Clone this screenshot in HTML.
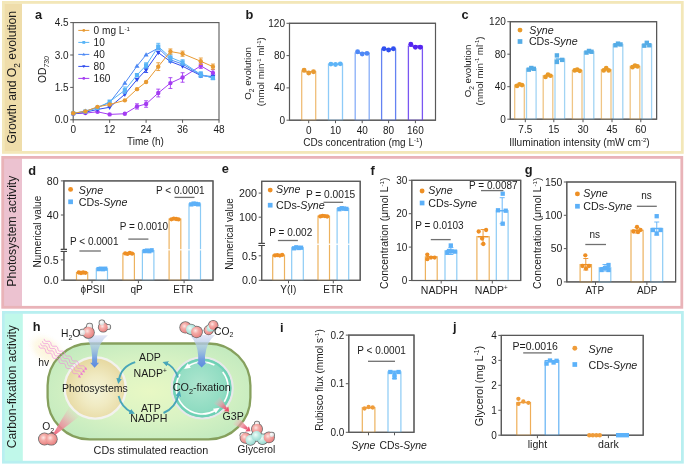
<!DOCTYPE html>
<html><head><meta charset="utf-8"><title>Figure</title>
<style>
html,body{margin:0;padding:0;background:#fff;}
#fig{position:relative;width:685px;height:465px;overflow:hidden;background:#fff;}
svg{display:block;font-family:'Liberation Sans', sans-serif;filter:blur(0.3px);}
</style></head><body>
<div id="fig">
<svg width="685" height="465" viewBox="0 0 685 465" fill="#1c1c1c">
<rect x="4.00" y="3.40" width="18.00" height="148.50" fill="#EFDDAA"/>
<rect x="3.40" y="2.40" width="678.90" height="150.00" fill="none" stroke="#F3E7B8" stroke-width="2.8"/>
<text x="16.40" y="77.20" font-size="12.2" text-anchor="middle" transform="rotate(-90 16.40 77.20)"><tspan>Growth and O</tspan><tspan dy="3.42" font-size="8.30">2</tspan><tspan dy="-3.42"> evolution</tspan></text>
<rect x="3.60" y="158.20" width="18.40" height="148.40" fill="#ECC2D0"/>
<rect x="2.70" y="157.40" width="679.10" height="149.90" fill="none" stroke="#E9B3B8" stroke-width="2.8"/>
<text x="16.40" y="231.20" font-size="12.2" text-anchor="middle" transform="rotate(-90 16.40 231.20)">Photosystem activity</text>
<rect x="4.20" y="313.20" width="18.60" height="148.20" fill="#C0F8EA"/>
<rect x="3.40" y="312.40" width="679.00" height="149.80" fill="none" stroke="#B8EFF0" stroke-width="2.8"/>
<text x="16.40" y="386.70" font-size="12.2" text-anchor="middle" transform="rotate(-90 16.40 386.70)">Carbon-fixation activity</text>
<text x="35.00" y="19.30" font-size="12.8" font-weight="bold">a</text>
<text x="245.60" y="19.30" font-size="12.8" font-weight="bold">b</text>
<text x="461.50" y="19.30" font-size="12.8" font-weight="bold">c</text>
<text x="28.20" y="175.30" font-size="12.8" font-weight="bold">d</text>
<text x="221.80" y="173.30" font-size="12.8" font-weight="bold">e</text>
<text x="370.60" y="175.10" font-size="12.8" font-weight="bold">f</text>
<text x="524.80" y="173.50" font-size="12.8" font-weight="bold">g</text>
<text x="32.80" y="331.40" font-size="12.8" font-weight="bold">h</text>
<text x="280.00" y="331.60" font-size="12.8" font-weight="bold">i</text>
<text x="453.00" y="331.40" font-size="12.8" font-weight="bold">j</text>
<rect x="73.20" y="22.60" width="145.80" height="97.20" fill="none" stroke="#595959" stroke-width="1.1"/>
<line x1="70.20" y1="119.80" x2="73.20" y2="119.80" stroke="#595959" stroke-width="1.0"/>
<text x="68.70" y="123.30" font-size="10" text-anchor="end">0.0</text>
<line x1="70.20" y1="87.40" x2="73.20" y2="87.40" stroke="#595959" stroke-width="1.0"/>
<text x="68.70" y="90.90" font-size="10" text-anchor="end">1.5</text>
<line x1="70.20" y1="55.00" x2="73.20" y2="55.00" stroke="#595959" stroke-width="1.0"/>
<text x="68.70" y="58.50" font-size="10" text-anchor="end">3.0</text>
<line x1="70.20" y1="22.60" x2="73.20" y2="22.60" stroke="#595959" stroke-width="1.0"/>
<text x="68.70" y="26.10" font-size="10" text-anchor="end">4.5</text>
<line x1="73.20" y1="119.80" x2="73.20" y2="122.80" stroke="#595959" stroke-width="1.0"/>
<text x="73.20" y="133.30" font-size="10" text-anchor="middle">0</text>
<line x1="109.65" y1="119.80" x2="109.65" y2="122.80" stroke="#595959" stroke-width="1.0"/>
<text x="109.65" y="133.30" font-size="10" text-anchor="middle">12</text>
<line x1="146.10" y1="119.80" x2="146.10" y2="122.80" stroke="#595959" stroke-width="1.0"/>
<text x="146.10" y="133.30" font-size="10" text-anchor="middle">24</text>
<line x1="182.55" y1="119.80" x2="182.55" y2="122.80" stroke="#595959" stroke-width="1.0"/>
<text x="182.55" y="133.30" font-size="10" text-anchor="middle">36</text>
<line x1="219.00" y1="119.80" x2="219.00" y2="122.80" stroke="#595959" stroke-width="1.0"/>
<text x="219.00" y="133.30" font-size="10" text-anchor="middle">48</text>
<text x="145.50" y="145.00" font-size="10" text-anchor="middle">Time (h)</text>
<text x="46.0" y="82.9" font-size="10.3" transform="rotate(-90 46.0 82.9)">OD<tspan dy="2.7" font-size="6.7" font-style="italic">730</tspan></text>
<polyline points="73.20,113.75 85.35,113.10 97.50,111.81 109.65,114.40 124.84,113.75 136.99,106.41 146.10,104.03 158.25,93.02 170.40,83.08 182.55,77.46 200.78,65.80 212.93,72.93" fill="none" stroke="#A43CF2" stroke-width="1.0"/>
<line x1="136.99" y1="103.82" x2="136.99" y2="109.00" stroke="#A43CF2" stroke-width="0.9"/>
<line x1="134.99" y1="103.82" x2="138.99" y2="103.82" stroke="#A43CF2" stroke-width="0.9"/>
<line x1="134.99" y1="109.00" x2="138.99" y2="109.00" stroke="#A43CF2" stroke-width="0.9"/>
<line x1="146.10" y1="100.79" x2="146.10" y2="107.27" stroke="#A43CF2" stroke-width="0.9"/>
<line x1="144.10" y1="100.79" x2="148.10" y2="100.79" stroke="#A43CF2" stroke-width="0.9"/>
<line x1="144.10" y1="107.27" x2="148.10" y2="107.27" stroke="#A43CF2" stroke-width="0.9"/>
<line x1="158.25" y1="89.13" x2="158.25" y2="96.90" stroke="#A43CF2" stroke-width="0.9"/>
<line x1="156.25" y1="89.13" x2="160.25" y2="89.13" stroke="#A43CF2" stroke-width="0.9"/>
<line x1="156.25" y1="96.90" x2="160.25" y2="96.90" stroke="#A43CF2" stroke-width="0.9"/>
<line x1="170.40" y1="77.68" x2="170.40" y2="88.48" stroke="#A43CF2" stroke-width="0.9"/>
<line x1="168.40" y1="77.68" x2="172.40" y2="77.68" stroke="#A43CF2" stroke-width="0.9"/>
<line x1="168.40" y1="88.48" x2="172.40" y2="88.48" stroke="#A43CF2" stroke-width="0.9"/>
<line x1="182.55" y1="72.71" x2="182.55" y2="82.22" stroke="#A43CF2" stroke-width="0.9"/>
<line x1="180.55" y1="72.71" x2="184.55" y2="72.71" stroke="#A43CF2" stroke-width="0.9"/>
<line x1="180.55" y1="82.22" x2="184.55" y2="82.22" stroke="#A43CF2" stroke-width="0.9"/>
<line x1="200.78" y1="63.21" x2="200.78" y2="68.39" stroke="#A43CF2" stroke-width="0.9"/>
<line x1="198.78" y1="63.21" x2="202.78" y2="63.21" stroke="#A43CF2" stroke-width="0.9"/>
<line x1="198.78" y1="68.39" x2="202.78" y2="68.39" stroke="#A43CF2" stroke-width="0.9"/>
<line x1="212.93" y1="69.69" x2="212.93" y2="76.17" stroke="#A43CF2" stroke-width="0.9"/>
<line x1="210.93" y1="69.69" x2="214.93" y2="69.69" stroke="#A43CF2" stroke-width="0.9"/>
<line x1="210.93" y1="76.17" x2="214.93" y2="76.17" stroke="#A43CF2" stroke-width="0.9"/>
<circle cx="73.20" cy="113.75" r="2.20" fill="#A43CF2"/>
<circle cx="85.35" cy="113.10" r="2.20" fill="#A43CF2"/>
<circle cx="97.50" cy="111.81" r="2.20" fill="#A43CF2"/>
<circle cx="109.65" cy="114.40" r="2.20" fill="#A43CF2"/>
<circle cx="124.84" cy="113.75" r="2.20" fill="#A43CF2"/>
<circle cx="136.99" cy="106.41" r="2.20" fill="#A43CF2"/>
<circle cx="146.10" cy="104.03" r="2.20" fill="#A43CF2"/>
<circle cx="158.25" cy="93.02" r="2.20" fill="#A43CF2"/>
<circle cx="170.40" cy="83.08" r="2.20" fill="#A43CF2"/>
<circle cx="182.55" cy="77.46" r="2.20" fill="#A43CF2"/>
<circle cx="200.78" cy="65.80" r="2.20" fill="#A43CF2"/>
<circle cx="212.93" cy="72.93" r="2.20" fill="#A43CF2"/>
<polyline points="73.20,113.75 85.35,112.24 97.50,109.43 109.65,107.27 124.84,94.31 136.99,79.62 146.10,69.90 158.25,52.62 170.40,61.48 182.55,66.23 200.78,75.52 212.93,76.60" fill="none" stroke="#2F4CEE" stroke-width="1.0"/>
<line x1="146.10" y1="67.31" x2="146.10" y2="72.50" stroke="#2F4CEE" stroke-width="0.9"/>
<line x1="144.10" y1="67.31" x2="148.10" y2="67.31" stroke="#2F4CEE" stroke-width="0.9"/>
<line x1="144.10" y1="72.50" x2="148.10" y2="72.50" stroke="#2F4CEE" stroke-width="0.9"/>
<polygon points="73.20,116.39 70.67,111.99 75.73,111.99" fill="#2F4CEE"/>
<polygon points="85.35,114.88 82.82,110.48 87.88,110.48" fill="#2F4CEE"/>
<polygon points="97.50,112.07 94.97,107.67 100.03,107.67" fill="#2F4CEE"/>
<polygon points="109.65,109.91 107.12,105.51 112.18,105.51" fill="#2F4CEE"/>
<polygon points="124.84,96.95 122.31,92.55 127.37,92.55" fill="#2F4CEE"/>
<polygon points="136.99,82.26 134.46,77.86 139.52,77.86" fill="#2F4CEE"/>
<polygon points="146.10,72.54 143.57,68.14 148.63,68.14" fill="#2F4CEE"/>
<polygon points="158.25,55.26 155.72,50.86 160.78,50.86" fill="#2F4CEE"/>
<polygon points="170.40,64.12 167.87,59.72 172.93,59.72" fill="#2F4CEE"/>
<polygon points="182.55,68.87 180.02,64.47 185.08,64.47" fill="#2F4CEE"/>
<polygon points="200.78,78.16 198.25,73.76 203.31,73.76" fill="#2F4CEE"/>
<polygon points="212.93,79.24 210.40,74.84 215.46,74.84" fill="#2F4CEE"/>
<polyline points="73.20,113.32 85.35,111.16 97.50,107.27 109.65,102.52 124.84,83.08 136.99,66.02 146.10,54.78 158.25,48.09 170.40,59.75 182.55,64.07 200.78,74.87 212.93,77.68" fill="none" stroke="#4C88F4" stroke-width="1.0"/>
<line x1="170.40" y1="57.16" x2="170.40" y2="62.34" stroke="#4C88F4" stroke-width="0.9"/>
<line x1="168.40" y1="57.16" x2="172.40" y2="57.16" stroke="#4C88F4" stroke-width="0.9"/>
<line x1="168.40" y1="62.34" x2="172.40" y2="62.34" stroke="#4C88F4" stroke-width="0.9"/>
<line x1="200.78" y1="72.28" x2="200.78" y2="77.46" stroke="#4C88F4" stroke-width="0.9"/>
<line x1="198.78" y1="72.28" x2="202.78" y2="72.28" stroke="#4C88F4" stroke-width="0.9"/>
<line x1="198.78" y1="77.46" x2="202.78" y2="77.46" stroke="#4C88F4" stroke-width="0.9"/>
<polygon points="73.20,110.68 70.67,115.08 75.73,115.08" fill="#4C88F4"/>
<polygon points="85.35,108.52 82.82,112.92 87.88,112.92" fill="#4C88F4"/>
<polygon points="97.50,104.63 94.97,109.03 100.03,109.03" fill="#4C88F4"/>
<polygon points="109.65,99.88 107.12,104.28 112.18,104.28" fill="#4C88F4"/>
<polygon points="124.84,80.44 122.31,84.84 127.37,84.84" fill="#4C88F4"/>
<polygon points="136.99,63.38 134.46,67.78 139.52,67.78" fill="#4C88F4"/>
<polygon points="146.10,52.14 143.57,56.54 148.63,56.54" fill="#4C88F4"/>
<polygon points="158.25,45.45 155.72,49.85 160.78,49.85" fill="#4C88F4"/>
<polygon points="170.40,57.11 167.87,61.51 172.93,61.51" fill="#4C88F4"/>
<polygon points="182.55,61.43 180.02,65.83 185.08,65.83" fill="#4C88F4"/>
<polygon points="200.78,72.23 198.25,76.63 203.31,76.63" fill="#4C88F4"/>
<polygon points="212.93,75.04 210.40,79.44 215.46,79.44" fill="#4C88F4"/>
<polyline points="73.20,113.32 85.35,111.59 97.50,107.92 109.65,101.66 124.84,90.21 136.99,75.09 146.10,65.37 158.25,46.58 170.40,57.38 182.55,62.34 200.78,74.44 212.93,78.11" fill="none" stroke="#58B4F6" stroke-width="1.0"/>
<line x1="124.84" y1="86.97" x2="124.84" y2="93.45" stroke="#58B4F6" stroke-width="0.9"/>
<line x1="122.84" y1="86.97" x2="126.84" y2="86.97" stroke="#58B4F6" stroke-width="0.9"/>
<line x1="122.84" y1="93.45" x2="126.84" y2="93.45" stroke="#58B4F6" stroke-width="0.9"/>
<line x1="146.10" y1="62.78" x2="146.10" y2="67.96" stroke="#58B4F6" stroke-width="0.9"/>
<line x1="144.10" y1="62.78" x2="148.10" y2="62.78" stroke="#58B4F6" stroke-width="0.9"/>
<line x1="144.10" y1="67.96" x2="148.10" y2="67.96" stroke="#58B4F6" stroke-width="0.9"/>
<line x1="158.25" y1="43.34" x2="158.25" y2="49.82" stroke="#58B4F6" stroke-width="0.9"/>
<line x1="156.25" y1="43.34" x2="160.25" y2="43.34" stroke="#58B4F6" stroke-width="0.9"/>
<line x1="156.25" y1="49.82" x2="160.25" y2="49.82" stroke="#58B4F6" stroke-width="0.9"/>
<line x1="170.40" y1="54.14" x2="170.40" y2="60.62" stroke="#58B4F6" stroke-width="0.9"/>
<line x1="168.40" y1="54.14" x2="172.40" y2="54.14" stroke="#58B4F6" stroke-width="0.9"/>
<line x1="168.40" y1="60.62" x2="172.40" y2="60.62" stroke="#58B4F6" stroke-width="0.9"/>
<line x1="182.55" y1="59.75" x2="182.55" y2="64.94" stroke="#58B4F6" stroke-width="0.9"/>
<line x1="180.55" y1="59.75" x2="184.55" y2="59.75" stroke="#58B4F6" stroke-width="0.9"/>
<line x1="180.55" y1="64.94" x2="184.55" y2="64.94" stroke="#58B4F6" stroke-width="0.9"/>
<line x1="200.78" y1="71.85" x2="200.78" y2="77.03" stroke="#58B4F6" stroke-width="0.9"/>
<line x1="198.78" y1="71.85" x2="202.78" y2="71.85" stroke="#58B4F6" stroke-width="0.9"/>
<line x1="198.78" y1="77.03" x2="202.78" y2="77.03" stroke="#58B4F6" stroke-width="0.9"/>
<rect x="71.10" y="111.22" width="4.20" height="4.20" fill="#58B4F6"/>
<rect x="83.25" y="109.49" width="4.20" height="4.20" fill="#58B4F6"/>
<rect x="95.40" y="105.82" width="4.20" height="4.20" fill="#58B4F6"/>
<rect x="107.55" y="99.56" width="4.20" height="4.20" fill="#58B4F6"/>
<rect x="122.74" y="88.11" width="4.20" height="4.20" fill="#58B4F6"/>
<rect x="134.89" y="72.99" width="4.20" height="4.20" fill="#58B4F6"/>
<rect x="144.00" y="63.27" width="4.20" height="4.20" fill="#58B4F6"/>
<rect x="156.15" y="44.48" width="4.20" height="4.20" fill="#58B4F6"/>
<rect x="168.30" y="55.28" width="4.20" height="4.20" fill="#58B4F6"/>
<rect x="180.45" y="60.24" width="4.20" height="4.20" fill="#58B4F6"/>
<rect x="198.68" y="72.34" width="4.20" height="4.20" fill="#58B4F6"/>
<rect x="210.83" y="76.01" width="4.20" height="4.20" fill="#58B4F6"/>
<polyline points="73.20,113.32 85.35,111.38 97.50,106.84 109.65,104.46 124.84,100.36 136.99,89.13 146.10,82.00 158.25,66.66 170.40,51.54 182.55,53.70 200.78,61.26 212.93,66.66" fill="none" stroke="#E89A32" stroke-width="1.0"/>
<line x1="158.25" y1="62.78" x2="158.25" y2="70.55" stroke="#E89A32" stroke-width="0.9"/>
<line x1="156.25" y1="62.78" x2="160.25" y2="62.78" stroke="#E89A32" stroke-width="0.9"/>
<line x1="156.25" y1="70.55" x2="160.25" y2="70.55" stroke="#E89A32" stroke-width="0.9"/>
<line x1="170.40" y1="48.95" x2="170.40" y2="54.14" stroke="#E89A32" stroke-width="0.9"/>
<line x1="168.40" y1="48.95" x2="172.40" y2="48.95" stroke="#E89A32" stroke-width="0.9"/>
<line x1="168.40" y1="54.14" x2="172.40" y2="54.14" stroke="#E89A32" stroke-width="0.9"/>
<line x1="182.55" y1="51.11" x2="182.55" y2="56.30" stroke="#E89A32" stroke-width="0.9"/>
<line x1="180.55" y1="51.11" x2="184.55" y2="51.11" stroke="#E89A32" stroke-width="0.9"/>
<line x1="180.55" y1="56.30" x2="184.55" y2="56.30" stroke="#E89A32" stroke-width="0.9"/>
<line x1="200.78" y1="58.02" x2="200.78" y2="64.50" stroke="#E89A32" stroke-width="0.9"/>
<line x1="198.78" y1="58.02" x2="202.78" y2="58.02" stroke="#E89A32" stroke-width="0.9"/>
<line x1="198.78" y1="64.50" x2="202.78" y2="64.50" stroke="#E89A32" stroke-width="0.9"/>
<line x1="212.93" y1="64.07" x2="212.93" y2="69.26" stroke="#E89A32" stroke-width="0.9"/>
<line x1="210.93" y1="64.07" x2="214.93" y2="64.07" stroke="#E89A32" stroke-width="0.9"/>
<line x1="210.93" y1="69.26" x2="214.93" y2="69.26" stroke="#E89A32" stroke-width="0.9"/>
<circle cx="73.20" cy="113.32" r="2.20" fill="#E89A32"/>
<circle cx="85.35" cy="111.38" r="2.20" fill="#E89A32"/>
<circle cx="97.50" cy="106.84" r="2.20" fill="#E89A32"/>
<circle cx="109.65" cy="104.46" r="2.20" fill="#E89A32"/>
<circle cx="124.84" cy="100.36" r="2.20" fill="#E89A32"/>
<circle cx="136.99" cy="89.13" r="2.20" fill="#E89A32"/>
<circle cx="146.10" cy="82.00" r="2.20" fill="#E89A32"/>
<circle cx="158.25" cy="66.66" r="2.20" fill="#E89A32"/>
<circle cx="170.40" cy="51.54" r="2.20" fill="#E89A32"/>
<circle cx="182.55" cy="53.70" r="2.20" fill="#E89A32"/>
<circle cx="200.78" cy="61.26" r="2.20" fill="#E89A32"/>
<circle cx="212.93" cy="66.66" r="2.20" fill="#E89A32"/>
<line x1="78.30" y1="30.40" x2="89.30" y2="30.40" stroke="#E89A32" stroke-width="1.0"/>
<circle cx="83.80" cy="30.40" r="1.40" fill="#E89A32"/>
<text x="93.60" y="34.40" font-size="10.1"><tspan>0 mg L</tspan><tspan dy="-3.64" font-size="6.06">-1</tspan></text>
<line x1="78.30" y1="42.40" x2="89.30" y2="42.40" stroke="#58B4F6" stroke-width="1.0"/>
<rect x="82.40" y="41.00" width="2.80" height="2.80" fill="#58B4F6"/>
<text x="93.60" y="46.40" font-size="10.1">10</text>
<line x1="78.30" y1="54.40" x2="89.30" y2="54.40" stroke="#4C88F4" stroke-width="1.0"/>
<polygon points="83.80,52.72 82.19,55.52 85.41,55.52" fill="#4C88F4"/>
<text x="93.60" y="58.40" font-size="10.1">40</text>
<line x1="78.30" y1="66.40" x2="89.30" y2="66.40" stroke="#2F4CEE" stroke-width="1.0"/>
<polygon points="83.80,68.08 82.19,65.28 85.41,65.28" fill="#2F4CEE"/>
<text x="93.60" y="70.40" font-size="10.1">80</text>
<line x1="78.30" y1="78.40" x2="89.30" y2="78.40" stroke="#A43CF2" stroke-width="1.0"/>
<circle cx="83.80" cy="78.40" r="1.40" fill="#A43CF2"/>
<text x="93.60" y="82.40" font-size="10.1">160</text>
<rect x="289.50" y="23.30" width="146.00" height="96.90" fill="none" stroke="#595959" stroke-width="1.1"/>
<line x1="286.50" y1="120.20" x2="289.50" y2="120.20" stroke="#595959" stroke-width="1.0"/>
<text x="285.00" y="123.70" font-size="10" text-anchor="end">0</text>
<line x1="286.50" y1="87.90" x2="289.50" y2="87.90" stroke="#595959" stroke-width="1.0"/>
<text x="285.00" y="91.40" font-size="10" text-anchor="end">40</text>
<line x1="286.50" y1="55.60" x2="289.50" y2="55.60" stroke="#595959" stroke-width="1.0"/>
<text x="285.00" y="59.10" font-size="10" text-anchor="end">80</text>
<line x1="286.50" y1="23.30" x2="289.50" y2="23.30" stroke="#595959" stroke-width="1.0"/>
<text x="285.00" y="26.80" font-size="10" text-anchor="end">120</text>
<text x="250.90" y="73.40" font-size="9.7" text-anchor="middle" transform="rotate(-90 250.90 73.40)"><tspan>O</tspan><tspan dy="2.72" font-size="6.60">2</tspan><tspan dy="-2.72"> evolution</tspan></text>
<text x="264.00" y="71.70" font-size="9.7" text-anchor="middle" transform="rotate(-90 264.00 71.70)"><tspan>(nmol min</tspan><tspan dy="-3.49" font-size="5.82">-1</tspan><tspan dy="3.49"> ml</tspan><tspan dy="-3.49" font-size="5.82">-1</tspan><tspan dy="3.49">)</tspan></text>
<rect x="301.70" y="71.75" width="14.00" height="48.45" fill="white" stroke="#F0BE78" stroke-width="1.3"/>
<line x1="303.20" y1="71.75" x2="314.20" y2="71.75" stroke="#E89A32" stroke-width="1.0"/>
<circle cx="304.10" cy="70.13" r="2.45" fill="#E89A32"/>
<circle cx="308.70" cy="72.96" r="2.45" fill="#E89A32"/>
<circle cx="313.50" cy="71.75" r="2.45" fill="#E89A32"/>
<line x1="308.70" y1="120.20" x2="308.70" y2="123.20" stroke="#595959" stroke-width="1.0"/>
<text x="308.70" y="133.90" font-size="10" text-anchor="middle">0</text>
<rect x="328.50" y="64.16" width="14.00" height="56.04" fill="white" stroke="#8ECBF8" stroke-width="1.3"/>
<line x1="330.00" y1="64.16" x2="341.00" y2="64.16" stroke="#5EB4F7" stroke-width="1.0"/>
<circle cx="330.90" cy="64.08" r="2.45" fill="#5EB4F7"/>
<circle cx="335.50" cy="64.48" r="2.45" fill="#5EB4F7"/>
<circle cx="340.30" cy="63.84" r="2.45" fill="#5EB4F7"/>
<line x1="335.50" y1="120.20" x2="335.50" y2="123.20" stroke="#595959" stroke-width="1.0"/>
<text x="335.50" y="133.90" font-size="10" text-anchor="middle">10</text>
<rect x="355.20" y="53.02" width="14.00" height="67.18" fill="white" stroke="#88AEF8" stroke-width="1.3"/>
<line x1="356.70" y1="53.02" x2="367.70" y2="53.02" stroke="#4E88F6" stroke-width="1.0"/>
<circle cx="357.60" cy="51.72" r="2.45" fill="#4E88F6"/>
<circle cx="362.20" cy="53.98" r="2.45" fill="#4E88F6"/>
<circle cx="367.00" cy="53.42" r="2.45" fill="#4E88F6"/>
<line x1="362.20" y1="120.20" x2="362.20" y2="123.20" stroke="#595959" stroke-width="1.0"/>
<text x="362.20" y="133.90" font-size="10" text-anchor="middle">40</text>
<rect x="381.60" y="49.22" width="14.00" height="70.98" fill="white" stroke="#6482F2" stroke-width="1.3"/>
<line x1="383.10" y1="49.22" x2="394.10" y2="49.22" stroke="#3050F0" stroke-width="1.0"/>
<circle cx="384.00" cy="48.82" r="2.45" fill="#3050F0"/>
<circle cx="388.60" cy="50.03" r="2.45" fill="#3050F0"/>
<circle cx="393.40" cy="48.82" r="2.45" fill="#3050F0"/>
<line x1="388.60" y1="120.20" x2="388.60" y2="123.20" stroke="#595959" stroke-width="1.0"/>
<text x="388.60" y="133.90" font-size="10" text-anchor="middle">80</text>
<rect x="408.40" y="46.15" width="14.00" height="74.05" fill="white" stroke="#7A56F2" stroke-width="1.3"/>
<line x1="409.90" y1="46.15" x2="420.90" y2="46.15" stroke="#5424F0" stroke-width="1.0"/>
<circle cx="410.80" cy="44.13" r="2.45" fill="#5424F0"/>
<circle cx="415.40" cy="47.20" r="2.45" fill="#5424F0"/>
<circle cx="420.20" cy="47.20" r="2.45" fill="#5424F0"/>
<line x1="415.40" y1="120.20" x2="415.40" y2="123.20" stroke="#595959" stroke-width="1.0"/>
<text x="415.40" y="133.90" font-size="10" text-anchor="middle">160</text>
<text x="363.00" y="145.80" font-size="10" text-anchor="middle"><tspan>CDs concentration (mg L</tspan><tspan dy="-3.60" font-size="6.00">-1</tspan><tspan dy="3.60">)</tspan></text>
<rect x="289.50" y="23.30" width="146.00" height="96.90" fill="none" stroke="#595959" stroke-width="1.1"/>
<rect x="510.30" y="21.70" width="146.30" height="97.50" fill="none" stroke="#595959" stroke-width="1.1"/>
<line x1="507.30" y1="119.20" x2="510.30" y2="119.20" stroke="#595959" stroke-width="1.0"/>
<text x="505.80" y="122.70" font-size="10" text-anchor="end">0</text>
<line x1="507.30" y1="86.70" x2="510.30" y2="86.70" stroke="#595959" stroke-width="1.0"/>
<text x="505.80" y="90.20" font-size="10" text-anchor="end">40</text>
<line x1="507.30" y1="54.20" x2="510.30" y2="54.20" stroke="#595959" stroke-width="1.0"/>
<text x="505.80" y="57.70" font-size="10" text-anchor="end">80</text>
<line x1="507.30" y1="21.70" x2="510.30" y2="21.70" stroke="#595959" stroke-width="1.0"/>
<text x="505.80" y="25.20" font-size="10" text-anchor="end">120</text>
<text x="471.30" y="71.00" font-size="9.7" text-anchor="middle" transform="rotate(-90 471.30 71.00)"><tspan>O</tspan><tspan dy="2.72" font-size="6.60">2</tspan><tspan dy="-2.72"> evolution</tspan></text>
<text x="482.60" y="71.00" font-size="9.7" text-anchor="middle" transform="rotate(-90 482.60 71.00)"><tspan>(nmol min</tspan><tspan dy="-3.49" font-size="5.82">-1</tspan><tspan dy="3.49"> ml</tspan><tspan dy="-3.49" font-size="5.82">-1</tspan><tspan dy="3.49">)</tspan></text>
<rect x="514.70" y="85.08" width="9.60" height="34.12" fill="white" stroke="#F0C585" stroke-width="1.3"/>
<rect x="526.50" y="68.83" width="9.60" height="50.38" fill="white" stroke="#A2D4F4" stroke-width="1.3"/>
<line x1="515.70" y1="85.08" x2="523.30" y2="85.08" stroke="#E99A28" stroke-width="1.3"/>
<line x1="527.50" y1="68.83" x2="535.10" y2="68.83" stroke="#55ACE6" stroke-width="1.3"/>
<circle cx="517.00" cy="85.89" r="2.35" fill="#E99A28"/>
<circle cx="519.50" cy="84.26" r="2.35" fill="#E99A28"/>
<circle cx="522.00" cy="85.08" r="2.35" fill="#E99A28"/>
<rect x="526.60" y="67.44" width="4.40" height="4.40" fill="#55ACE6"/>
<rect x="529.10" y="65.81" width="4.40" height="4.40" fill="#55ACE6"/>
<rect x="531.60" y="66.62" width="4.40" height="4.40" fill="#55ACE6"/>
<line x1="525.30" y1="119.20" x2="525.30" y2="122.20" stroke="#595959" stroke-width="1.0"/>
<text x="525.30" y="133.40" font-size="10" text-anchor="middle">7.5</text>
<rect x="543.20" y="75.73" width="9.60" height="43.47" fill="white" stroke="#F0C585" stroke-width="1.3"/>
<rect x="555.00" y="59.08" width="9.60" height="60.12" fill="white" stroke="#A2D4F4" stroke-width="1.3"/>
<line x1="544.20" y1="75.73" x2="551.80" y2="75.73" stroke="#E99A28" stroke-width="1.3"/>
<line x1="556.00" y1="59.08" x2="563.60" y2="59.08" stroke="#55ACE6" stroke-width="1.3"/>
<circle cx="545.50" cy="76.95" r="2.35" fill="#E99A28"/>
<circle cx="548.00" cy="74.51" r="2.35" fill="#E99A28"/>
<circle cx="550.50" cy="75.73" r="2.35" fill="#E99A28"/>
<rect x="554.70" y="53.22" width="4.40" height="4.40" fill="#55ACE6"/>
<rect x="554.70" y="59.72" width="4.40" height="4.40" fill="#55ACE6"/>
<rect x="560.00" y="57.69" width="4.40" height="4.40" fill="#55ACE6"/>
<line x1="553.80" y1="119.20" x2="553.80" y2="122.20" stroke="#595959" stroke-width="1.0"/>
<text x="553.80" y="133.40" font-size="10" text-anchor="middle">15</text>
<rect x="572.40" y="70.45" width="9.60" height="48.75" fill="white" stroke="#F0C585" stroke-width="1.3"/>
<rect x="584.20" y="51.76" width="9.60" height="67.44" fill="white" stroke="#A2D4F4" stroke-width="1.3"/>
<line x1="573.40" y1="70.45" x2="581.00" y2="70.45" stroke="#E99A28" stroke-width="1.3"/>
<line x1="585.20" y1="51.76" x2="592.80" y2="51.76" stroke="#55ACE6" stroke-width="1.3"/>
<circle cx="574.70" cy="70.45" r="2.35" fill="#E99A28"/>
<circle cx="577.20" cy="69.64" r="2.35" fill="#E99A28"/>
<circle cx="579.70" cy="70.86" r="2.35" fill="#E99A28"/>
<rect x="584.30" y="50.38" width="4.40" height="4.40" fill="#55ACE6"/>
<rect x="586.80" y="48.75" width="4.40" height="4.40" fill="#55ACE6"/>
<rect x="589.30" y="49.56" width="4.40" height="4.40" fill="#55ACE6"/>
<line x1="583.00" y1="119.20" x2="583.00" y2="122.20" stroke="#595959" stroke-width="1.0"/>
<text x="583.00" y="133.40" font-size="10" text-anchor="middle">30</text>
<rect x="601.40" y="69.64" width="9.60" height="49.56" fill="white" stroke="#F0C585" stroke-width="1.3"/>
<rect x="613.20" y="44.45" width="9.60" height="74.75" fill="white" stroke="#A2D4F4" stroke-width="1.3"/>
<line x1="602.40" y1="69.64" x2="610.00" y2="69.64" stroke="#E99A28" stroke-width="1.3"/>
<line x1="614.20" y1="44.45" x2="621.80" y2="44.45" stroke="#55ACE6" stroke-width="1.3"/>
<circle cx="603.70" cy="70.45" r="2.35" fill="#E99A28"/>
<circle cx="606.20" cy="68.01" r="2.35" fill="#E99A28"/>
<circle cx="608.70" cy="70.45" r="2.35" fill="#E99A28"/>
<rect x="613.30" y="43.06" width="4.40" height="4.40" fill="#55ACE6"/>
<rect x="615.80" y="41.44" width="4.40" height="4.40" fill="#55ACE6"/>
<rect x="618.30" y="42.25" width="4.40" height="4.40" fill="#55ACE6"/>
<line x1="612.00" y1="119.20" x2="612.00" y2="122.20" stroke="#595959" stroke-width="1.0"/>
<text x="612.00" y="133.40" font-size="10" text-anchor="middle">45</text>
<rect x="630.20" y="66.39" width="9.60" height="52.81" fill="white" stroke="#F0C585" stroke-width="1.3"/>
<rect x="642.00" y="44.45" width="9.60" height="74.75" fill="white" stroke="#A2D4F4" stroke-width="1.3"/>
<line x1="631.20" y1="66.39" x2="638.80" y2="66.39" stroke="#E99A28" stroke-width="1.3"/>
<line x1="643.00" y1="44.45" x2="650.60" y2="44.45" stroke="#55ACE6" stroke-width="1.3"/>
<circle cx="632.50" cy="67.20" r="2.35" fill="#E99A28"/>
<circle cx="635.00" cy="65.58" r="2.35" fill="#E99A28"/>
<circle cx="637.50" cy="66.39" r="2.35" fill="#E99A28"/>
<rect x="642.10" y="43.47" width="4.40" height="4.40" fill="#55ACE6"/>
<rect x="644.60" y="40.62" width="4.40" height="4.40" fill="#55ACE6"/>
<rect x="647.10" y="43.06" width="4.40" height="4.40" fill="#55ACE6"/>
<line x1="640.80" y1="119.20" x2="640.80" y2="122.20" stroke="#595959" stroke-width="1.0"/>
<text x="640.80" y="133.40" font-size="10" text-anchor="middle">60</text>
<text x="579.50" y="145.60" font-size="10.15" text-anchor="middle"><tspan>Illumination intensity (mW cm</tspan><tspan dy="-3.65" font-size="6.09">-2</tspan><tspan dy="3.65">)</tspan></text>
<circle cx="520.00" cy="30.10" r="2.45" fill="#E99A28"/>
<text x="529.30" y="33.60" font-size="10.7" font-style="italic">Syne</text>
<rect x="517.65" y="39.15" width="4.70" height="4.70" fill="#55ACE6"/>
<text x="528.90" y="44.90" font-size="10.7"><tspan>CDs-</tspan><tspan font-style="italic">Syne</tspan></text>
<rect x="510.30" y="21.70" width="146.30" height="97.50" fill="none" stroke="#595959" stroke-width="1.1"/>
<rect x="63.90" y="180.90" width="149.10" height="99.30" fill="none" stroke="#595959" stroke-width="1.1"/>
<line x1="60.90" y1="280.20" x2="63.90" y2="280.20" stroke="#595959" stroke-width="1.0"/>
<text x="58.60" y="283.91" font-size="10.6" text-anchor="end">0.0</text>
<line x1="60.90" y1="259.90" x2="63.90" y2="259.90" stroke="#595959" stroke-width="1.0"/>
<text x="58.60" y="263.61" font-size="10.6" text-anchor="end">0.5</text>
<line x1="60.90" y1="215.00" x2="63.90" y2="215.00" stroke="#595959" stroke-width="1.0"/>
<text x="58.60" y="218.71" font-size="10.6" text-anchor="end">40</text>
<line x1="60.90" y1="180.90" x2="63.90" y2="180.90" stroke="#595959" stroke-width="1.0"/>
<text x="58.60" y="184.61" font-size="10.6" text-anchor="end">80</text>
<text x="41.30" y="231.60" font-size="10" text-anchor="middle" transform="rotate(-90 41.30 231.60)">Numerical value</text>
<rect x="76.50" y="272.50" width="11.20" height="7.70" fill="white" stroke="#EDB25E" stroke-width="1.2"/>
<line x1="77.50" y1="272.50" x2="86.70" y2="272.50" stroke="#EE8F24" stroke-width="1.3"/>
<circle cx="78.80" cy="272.50" r="2.15" fill="#EE8F24"/>
<circle cx="81.00" cy="273.00" r="2.15" fill="#EE8F24"/>
<circle cx="83.20" cy="272.50" r="2.15" fill="#EE8F24"/>
<circle cx="85.40" cy="272.80" r="2.15" fill="#EE8F24"/>
<rect x="96.30" y="268.70" width="11.20" height="11.50" fill="white" stroke="#8CCBF5" stroke-width="1.2"/>
<line x1="97.30" y1="268.70" x2="106.50" y2="268.70" stroke="#5CB0F8" stroke-width="1.3"/>
<rect x="96.45" y="266.95" width="4.30" height="4.30" fill="#5CB0F8"/>
<rect x="98.65" y="266.55" width="4.30" height="4.30" fill="#5CB0F8"/>
<rect x="100.85" y="267.05" width="4.30" height="4.30" fill="#5CB0F8"/>
<rect x="103.05" y="266.55" width="4.30" height="4.30" fill="#5CB0F8"/>
<rect x="122.90" y="253.40" width="11.50" height="26.80" fill="white" stroke="#EDB25E" stroke-width="1.2"/>
<line x1="123.90" y1="253.40" x2="133.40" y2="253.40" stroke="#EE8F24" stroke-width="1.3"/>
<circle cx="125.20" cy="253.40" r="2.15" fill="#EE8F24"/>
<circle cx="127.50" cy="253.90" r="2.15" fill="#EE8F24"/>
<circle cx="129.80" cy="252.90" r="2.15" fill="#EE8F24"/>
<circle cx="132.10" cy="253.70" r="2.15" fill="#EE8F24"/>
<rect x="142.40" y="250.60" width="11.50" height="29.60" fill="white" stroke="#8CCBF5" stroke-width="1.2"/>
<line x1="143.40" y1="250.60" x2="152.90" y2="250.60" stroke="#5CB0F8" stroke-width="1.3"/>
<rect x="142.55" y="248.95" width="4.30" height="4.30" fill="#5CB0F8"/>
<rect x="144.85" y="248.45" width="4.30" height="4.30" fill="#5CB0F8"/>
<rect x="147.15" y="249.05" width="4.30" height="4.30" fill="#5CB0F8"/>
<rect x="149.45" y="248.15" width="4.30" height="4.30" fill="#5CB0F8"/>
<rect x="169.10" y="219.00" width="11.70" height="61.20" fill="white" stroke="#EDB25E" stroke-width="1.2"/>
<line x1="170.10" y1="219.00" x2="179.80" y2="219.00" stroke="#EE8F24" stroke-width="1.3"/>
<circle cx="171.40" cy="219.30" r="2.15" fill="#EE8F24"/>
<circle cx="173.77" cy="218.60" r="2.15" fill="#EE8F24"/>
<circle cx="176.13" cy="219.00" r="2.15" fill="#EE8F24"/>
<circle cx="178.50" cy="219.40" r="2.15" fill="#EE8F24"/>
<rect x="189.00" y="203.90" width="11.50" height="76.30" fill="white" stroke="#8CCBF5" stroke-width="1.2"/>
<line x1="190.00" y1="203.90" x2="199.50" y2="203.90" stroke="#5CB0F8" stroke-width="1.3"/>
<rect x="189.15" y="202.25" width="4.30" height="4.30" fill="#5CB0F8"/>
<rect x="191.45" y="201.45" width="4.30" height="4.30" fill="#5CB0F8"/>
<rect x="193.75" y="201.75" width="4.30" height="4.30" fill="#5CB0F8"/>
<rect x="196.05" y="202.15" width="4.30" height="4.30" fill="#5CB0F8"/>
<rect x="168" y="249.2" width="34" height="1.2" fill="white"/>
<rect x="62.90" y="249.40" width="2" height="2.0" fill="white"/>
<line x1="60.80" y1="249.35" x2="67.00" y2="249.35" stroke="#444" stroke-width="1.0"/>
<line x1="60.80" y1="251.45" x2="67.00" y2="251.45" stroke="#444" stroke-width="1.0"/>
<line x1="92.00" y1="280.20" x2="92.00" y2="283.20" stroke="#595959" stroke-width="1.0"/>
<line x1="138.40" y1="280.20" x2="138.40" y2="283.20" stroke="#595959" stroke-width="1.0"/>
<line x1="184.10" y1="280.20" x2="184.10" y2="283.20" stroke="#595959" stroke-width="1.0"/>
<text x="92.80" y="293.00" font-size="10" text-anchor="middle">ϕPSII</text>
<text x="136.60" y="293.00" font-size="10" text-anchor="middle">qP</text>
<text x="183.20" y="293.00" font-size="10" text-anchor="middle">ETR</text>
<text x="70.00" y="245.30" font-size="10">P &lt; 0.0001</text>
<line x1="79.40" y1="251.00" x2="100.90" y2="251.00" stroke="#707070" stroke-width="1.3"/>
<text x="119.70" y="229.90" font-size="10">P = 0.0010</text>
<line x1="128.30" y1="239.10" x2="148.40" y2="239.10" stroke="#707070" stroke-width="1.3"/>
<text x="156.10" y="193.80" font-size="10">P &lt; 0.0001</text>
<line x1="174.50" y1="197.40" x2="194.50" y2="197.40" stroke="#707070" stroke-width="1.3"/>
<circle cx="70.60" cy="189.40" r="2.45" fill="#EE8F24"/>
<text x="78.80" y="193.90" font-size="10.7" font-style="italic">Syne</text>
<rect x="68.25" y="199.45" width="4.70" height="4.70" fill="#5CB0F8"/>
<text x="78.80" y="206.30" font-size="10.7"><tspan>CDs-</tspan><tspan font-style="italic">Syne</tspan></text>
<rect x="63.90" y="180.90" width="149.10" height="99.30" fill="none" stroke="#595959" stroke-width="1.1"/>
<rect x="62.90" y="249.40" width="2" height="2.0" fill="white"/>
<line x1="60.80" y1="249.35" x2="67.00" y2="249.35" stroke="#444" stroke-width="1.0"/>
<line x1="60.80" y1="251.45" x2="67.00" y2="251.45" stroke="#444" stroke-width="1.0"/>
<rect x="261.70" y="181.30" width="98.50" height="99.00" fill="none" stroke="#595959" stroke-width="1.1"/>
<line x1="258.70" y1="280.30" x2="261.70" y2="280.30" stroke="#595959" stroke-width="1.0"/>
<text x="256.90" y="284.05" font-size="10.7" text-anchor="end">0.0</text>
<line x1="258.70" y1="255.80" x2="261.70" y2="255.80" stroke="#595959" stroke-width="1.0"/>
<text x="256.90" y="259.55" font-size="10.7" text-anchor="end">0.5</text>
<line x1="258.70" y1="217.20" x2="261.70" y2="217.20" stroke="#595959" stroke-width="1.0"/>
<text x="256.90" y="220.94" font-size="10.7" text-anchor="end">100</text>
<line x1="258.70" y1="193.10" x2="261.70" y2="193.10" stroke="#595959" stroke-width="1.0"/>
<text x="256.90" y="196.84" font-size="10.7" text-anchor="end">200</text>
<text x="232.80" y="234.00" font-size="10" text-anchor="middle" transform="rotate(-90 232.80 234.00)">Numerical value</text>
<rect x="272.70" y="255.10" width="11.80" height="25.20" fill="white" stroke="#EDB25E" stroke-width="1.2"/>
<line x1="273.70" y1="255.10" x2="283.50" y2="255.10" stroke="#EE8F24" stroke-width="1.3"/>
<circle cx="275.00" cy="255.40" r="2.15" fill="#EE8F24"/>
<circle cx="277.40" cy="255.10" r="2.15" fill="#EE8F24"/>
<circle cx="279.80" cy="255.60" r="2.15" fill="#EE8F24"/>
<circle cx="282.20" cy="254.90" r="2.15" fill="#EE8F24"/>
<rect x="291.70" y="247.70" width="11.60" height="32.60" fill="white" stroke="#8CCBF5" stroke-width="1.2"/>
<line x1="292.70" y1="247.70" x2="302.30" y2="247.70" stroke="#5CB0F8" stroke-width="1.3"/>
<rect x="291.85" y="246.15" width="4.30" height="4.30" fill="#5CB0F8"/>
<rect x="294.18" y="245.15" width="4.30" height="4.30" fill="#5CB0F8"/>
<rect x="296.52" y="245.85" width="4.30" height="4.30" fill="#5CB0F8"/>
<rect x="298.85" y="245.55" width="4.30" height="4.30" fill="#5CB0F8"/>
<rect x="318.00" y="216.10" width="11.50" height="64.20" fill="white" stroke="#EDB25E" stroke-width="1.2"/>
<line x1="319.00" y1="216.10" x2="328.50" y2="216.10" stroke="#EE8F24" stroke-width="1.3"/>
<circle cx="320.30" cy="216.40" r="2.15" fill="#EE8F24"/>
<circle cx="322.60" cy="215.80" r="2.15" fill="#EE8F24"/>
<circle cx="324.90" cy="216.10" r="2.15" fill="#EE8F24"/>
<circle cx="327.20" cy="216.50" r="2.15" fill="#EE8F24"/>
<rect x="337.10" y="208.60" width="11.60" height="71.70" fill="white" stroke="#8CCBF5" stroke-width="1.2"/>
<line x1="338.10" y1="208.60" x2="347.70" y2="208.60" stroke="#5CB0F8" stroke-width="1.3"/>
<rect x="337.25" y="207.05" width="4.30" height="4.30" fill="#5CB0F8"/>
<rect x="339.58" y="206.05" width="4.30" height="4.30" fill="#5CB0F8"/>
<rect x="341.92" y="206.45" width="4.30" height="4.30" fill="#5CB0F8"/>
<rect x="344.25" y="206.75" width="4.30" height="4.30" fill="#5CB0F8"/>
<rect x="316" y="243.6" width="35" height="1.2" fill="white"/>
<rect x="260.70" y="243.45" width="2" height="2.0" fill="white"/>
<line x1="258.60" y1="243.40" x2="264.80" y2="243.40" stroke="#444" stroke-width="1.0"/>
<line x1="258.60" y1="245.50" x2="264.80" y2="245.50" stroke="#444" stroke-width="1.0"/>
<line x1="288.50" y1="280.30" x2="288.50" y2="283.30" stroke="#595959" stroke-width="1.0"/>
<line x1="333.30" y1="280.30" x2="333.30" y2="283.30" stroke="#595959" stroke-width="1.0"/>
<text x="288.30" y="293.00" font-size="10" text-anchor="middle">Y(I)</text>
<text x="333.30" y="293.00" font-size="10" text-anchor="middle">ETR</text>
<text x="269.30" y="235.70" font-size="10">P = 0.002</text>
<line x1="277.90" y1="240.50" x2="297.90" y2="240.50" stroke="#707070" stroke-width="1.3"/>
<text x="305.90" y="197.70" font-size="10.2">P = 0.0015</text>
<line x1="323.50" y1="202.30" x2="343.10" y2="202.30" stroke="#707070" stroke-width="1.3"/>
<circle cx="270.20" cy="190.10" r="2.45" fill="#EE8F24"/>
<text x="276.00" y="193.40" font-size="10.7" font-style="italic">Syne</text>
<rect x="267.85" y="202.85" width="4.70" height="4.70" fill="#5CB0F8"/>
<text x="276.00" y="209.00" font-size="10.7"><tspan>CDs-</tspan><tspan font-style="italic">Syne</tspan></text>
<rect x="261.70" y="181.30" width="98.50" height="99.00" fill="none" stroke="#595959" stroke-width="1.1"/>
<rect x="260.70" y="243.45" width="2" height="2.0" fill="white"/>
<line x1="258.60" y1="243.40" x2="264.80" y2="243.40" stroke="#444" stroke-width="1.0"/>
<line x1="258.60" y1="245.50" x2="264.80" y2="245.50" stroke="#444" stroke-width="1.0"/>
<rect x="411.80" y="180.30" width="108.90" height="100.20" fill="none" stroke="#595959" stroke-width="1.1"/>
<line x1="408.80" y1="280.50" x2="411.80" y2="280.50" stroke="#595959" stroke-width="1.0"/>
<text x="407.30" y="284.00" font-size="10" text-anchor="end">0</text>
<line x1="408.80" y1="247.10" x2="411.80" y2="247.10" stroke="#595959" stroke-width="1.0"/>
<text x="407.30" y="250.60" font-size="10" text-anchor="end">10</text>
<line x1="408.80" y1="213.70" x2="411.80" y2="213.70" stroke="#595959" stroke-width="1.0"/>
<text x="407.30" y="217.20" font-size="10" text-anchor="end">20</text>
<line x1="408.80" y1="180.30" x2="411.80" y2="180.30" stroke="#595959" stroke-width="1.0"/>
<text x="407.30" y="183.80" font-size="10" text-anchor="end">30</text>
<text x="387.60" y="233.20" font-size="10.4" text-anchor="middle" transform="rotate(-90 387.60 233.20)"><tspan>Concentration (μmol L</tspan><tspan dy="-3.74" font-size="6.24">-1</tspan><tspan dy="3.74">)</tspan></text>
<rect x="425.40" y="256.80" width="11.80" height="23.70" fill="white" stroke="#EDB25E" stroke-width="1.2"/>
<line x1="426.40" y1="256.80" x2="436.20" y2="256.80" stroke="#EE8F24" stroke-width="1.3"/>
<circle cx="427.30" cy="254.60" r="2.15" fill="#EE8F24"/>
<circle cx="427.30" cy="259.20" r="2.15" fill="#EE8F24"/>
<circle cx="431.00" cy="257.60" r="2.15" fill="#EE8F24"/>
<circle cx="434.60" cy="257.60" r="2.15" fill="#EE8F24"/>
<rect x="445.00" y="250.80" width="11.80" height="29.70" fill="white" stroke="#8CCBF5" stroke-width="1.2"/>
<line x1="446.00" y1="250.80" x2="455.80" y2="250.80" stroke="#5CB0F8" stroke-width="1.3"/>
<line x1="450.90" y1="247.60" x2="450.90" y2="254.50" stroke="#5CB0F8" stroke-width="0.9"/>
<line x1="448.40" y1="247.60" x2="453.40" y2="247.60" stroke="#5CB0F8" stroke-width="0.9"/>
<line x1="448.40" y1="254.50" x2="453.40" y2="254.50" stroke="#5CB0F8" stroke-width="0.9"/>
<rect x="448.65" y="243.35" width="4.30" height="4.30" fill="#5CB0F8"/>
<rect x="445.15" y="250.65" width="4.30" height="4.30" fill="#5CB0F8"/>
<rect x="449.35" y="249.15" width="4.30" height="4.30" fill="#5CB0F8"/>
<rect x="452.85" y="249.45" width="4.30" height="4.30" fill="#5CB0F8"/>
<rect x="446.85" y="248.85" width="4.30" height="4.30" fill="#5CB0F8"/>
<rect x="476.90" y="236.70" width="12.30" height="43.80" fill="white" stroke="#EDB25E" stroke-width="1.2"/>
<line x1="477.90" y1="236.70" x2="488.20" y2="236.70" stroke="#EE8F24" stroke-width="1.3"/>
<line x1="483.05" y1="229.50" x2="483.05" y2="244.00" stroke="#EE8F24" stroke-width="0.9"/>
<line x1="480.55" y1="229.50" x2="485.55" y2="229.50" stroke="#EE8F24" stroke-width="0.9"/>
<line x1="480.55" y1="244.00" x2="485.55" y2="244.00" stroke="#EE8F24" stroke-width="0.9"/>
<circle cx="478.70" cy="231.50" r="2.15" fill="#EE8F24"/>
<circle cx="486.10" cy="230.00" r="2.15" fill="#EE8F24"/>
<circle cx="482.10" cy="238.60" r="2.15" fill="#EE8F24"/>
<circle cx="483.30" cy="244.00" r="2.15" fill="#EE8F24"/>
<rect x="496.30" y="210.70" width="11.80" height="69.80" fill="white" stroke="#8CCBF5" stroke-width="1.2"/>
<line x1="497.30" y1="210.70" x2="507.10" y2="210.70" stroke="#5CB0F8" stroke-width="1.3"/>
<line x1="502.20" y1="197.70" x2="502.20" y2="223.70" stroke="#5CB0F8" stroke-width="0.9"/>
<line x1="499.70" y1="197.70" x2="504.70" y2="197.70" stroke="#5CB0F8" stroke-width="0.9"/>
<line x1="499.70" y1="223.70" x2="504.70" y2="223.70" stroke="#5CB0F8" stroke-width="0.9"/>
<rect x="500.55" y="191.55" width="4.30" height="4.30" fill="#5CB0F8"/>
<rect x="495.85" y="208.15" width="4.30" height="4.30" fill="#5CB0F8"/>
<rect x="503.55" y="208.55" width="4.30" height="4.30" fill="#5CB0F8"/>
<rect x="500.55" y="221.55" width="4.30" height="4.30" fill="#5CB0F8"/>
<line x1="441.20" y1="280.50" x2="441.20" y2="283.50" stroke="#595959" stroke-width="1.0"/>
<line x1="492.30" y1="280.50" x2="492.30" y2="283.50" stroke="#595959" stroke-width="1.0"/>
<text x="439.20" y="293.90" font-size="10.5" text-anchor="middle">NADPH</text>
<text x="491.30" y="293.90" font-size="10.5" text-anchor="middle"><tspan>NADP</tspan><tspan dy="-3.78" font-size="6.30">+</tspan></text>
<text x="415.20" y="228.50" font-size="10">P = 0.0103</text>
<line x1="430.80" y1="239.60" x2="450.70" y2="239.60" stroke="#707070" stroke-width="1.3"/>
<text x="469.10" y="188.80" font-size="10">P = 0.0087</text>
<line x1="481.00" y1="190.60" x2="503.40" y2="190.60" stroke="#707070" stroke-width="1.3"/>
<circle cx="422.10" cy="191.00" r="2.45" fill="#EE8F24"/>
<text x="428.30" y="193.90" font-size="10.7" font-style="italic">Syne</text>
<rect x="419.75" y="200.65" width="4.70" height="4.70" fill="#5CB0F8"/>
<text x="428.30" y="206.50" font-size="10.7"><tspan>CDs-</tspan><tspan font-style="italic">Syne</tspan></text>
<rect x="411.80" y="180.30" width="108.90" height="100.20" fill="none" stroke="#595959" stroke-width="1.1"/>
<rect x="566.80" y="182.00" width="108.80" height="99.90" fill="none" stroke="#595959" stroke-width="1.1"/>
<line x1="563.80" y1="281.90" x2="566.80" y2="281.90" stroke="#595959" stroke-width="1.0"/>
<text x="562.30" y="285.54" font-size="10.4" text-anchor="end">0</text>
<line x1="563.80" y1="248.60" x2="566.80" y2="248.60" stroke="#595959" stroke-width="1.0"/>
<text x="562.30" y="252.24" font-size="10.4" text-anchor="end">50</text>
<line x1="563.80" y1="215.30" x2="566.80" y2="215.30" stroke="#595959" stroke-width="1.0"/>
<text x="562.30" y="218.94" font-size="10.4" text-anchor="end">100</text>
<line x1="563.80" y1="182.00" x2="566.80" y2="182.00" stroke="#595959" stroke-width="1.0"/>
<text x="562.30" y="185.64" font-size="10.4" text-anchor="end">150</text>
<text x="540.90" y="233.20" font-size="10.4" text-anchor="middle" transform="rotate(-90 540.90 233.20)"><tspan>Concentration (μmol L</tspan><tspan dy="-3.74" font-size="6.24">-1</tspan><tspan dy="3.74">)</tspan></text>
<rect x="580.10" y="264.60" width="11.40" height="17.30" fill="white" stroke="#EDB25E" stroke-width="1.2"/>
<line x1="581.10" y1="264.60" x2="590.50" y2="264.60" stroke="#EE8F24" stroke-width="1.3"/>
<line x1="585.80" y1="258.50" x2="585.80" y2="270.00" stroke="#EE8F24" stroke-width="0.9"/>
<line x1="583.30" y1="258.50" x2="588.30" y2="258.50" stroke="#EE8F24" stroke-width="0.9"/>
<line x1="583.30" y1="270.00" x2="588.30" y2="270.00" stroke="#EE8F24" stroke-width="0.9"/>
<circle cx="585.30" cy="255.30" r="2.15" fill="#EE8F24"/>
<circle cx="582.50" cy="266.00" r="2.15" fill="#EE8F24"/>
<circle cx="586.00" cy="268.50" r="2.15" fill="#EE8F24"/>
<circle cx="589.00" cy="266.00" r="2.15" fill="#EE8F24"/>
<rect x="599.20" y="267.70" width="11.60" height="14.20" fill="white" stroke="#8CCBF5" stroke-width="1.2"/>
<line x1="600.20" y1="267.70" x2="609.80" y2="267.70" stroke="#5CB0F8" stroke-width="1.3"/>
<line x1="605.00" y1="264.50" x2="605.00" y2="271.00" stroke="#5CB0F8" stroke-width="0.9"/>
<line x1="602.50" y1="264.50" x2="607.50" y2="264.50" stroke="#5CB0F8" stroke-width="0.9"/>
<line x1="602.50" y1="271.00" x2="607.50" y2="271.00" stroke="#5CB0F8" stroke-width="0.9"/>
<rect x="599.35" y="267.85" width="4.30" height="4.30" fill="#5CB0F8"/>
<rect x="602.85" y="265.85" width="4.30" height="4.30" fill="#5CB0F8"/>
<rect x="606.35" y="262.85" width="4.30" height="4.30" fill="#5CB0F8"/>
<rect x="606.35" y="267.85" width="4.30" height="4.30" fill="#5CB0F8"/>
<rect x="631.00" y="230.30" width="12.10" height="51.60" fill="white" stroke="#EDB25E" stroke-width="1.2"/>
<line x1="632.00" y1="230.30" x2="642.10" y2="230.30" stroke="#EE8F24" stroke-width="1.3"/>
<line x1="637.05" y1="227.50" x2="637.05" y2="233.00" stroke="#EE8F24" stroke-width="0.9"/>
<line x1="634.55" y1="227.50" x2="639.55" y2="227.50" stroke="#EE8F24" stroke-width="0.9"/>
<line x1="634.55" y1="233.00" x2="639.55" y2="233.00" stroke="#EE8F24" stroke-width="0.9"/>
<circle cx="633.50" cy="231.50" r="2.15" fill="#EE8F24"/>
<circle cx="637.00" cy="227.00" r="2.15" fill="#EE8F24"/>
<circle cx="640.50" cy="230.00" r="2.15" fill="#EE8F24"/>
<circle cx="638.00" cy="232.00" r="2.15" fill="#EE8F24"/>
<rect x="650.80" y="228.50" width="11.90" height="53.40" fill="white" stroke="#8CCBF5" stroke-width="1.2"/>
<line x1="651.80" y1="228.50" x2="661.70" y2="228.50" stroke="#5CB0F8" stroke-width="1.3"/>
<line x1="656.75" y1="222.00" x2="656.75" y2="235.00" stroke="#5CB0F8" stroke-width="0.9"/>
<line x1="654.25" y1="222.00" x2="659.25" y2="222.00" stroke="#5CB0F8" stroke-width="0.9"/>
<line x1="654.25" y1="235.00" x2="659.25" y2="235.00" stroke="#5CB0F8" stroke-width="0.9"/>
<rect x="654.55" y="214.05" width="4.30" height="4.30" fill="#5CB0F8"/>
<rect x="650.85" y="227.85" width="4.30" height="4.30" fill="#5CB0F8"/>
<rect x="658.35" y="227.85" width="4.30" height="4.30" fill="#5CB0F8"/>
<rect x="654.55" y="231.35" width="4.30" height="4.30" fill="#5CB0F8"/>
<line x1="595.50" y1="281.90" x2="595.50" y2="284.90" stroke="#595959" stroke-width="1.0"/>
<line x1="646.90" y1="281.90" x2="646.90" y2="284.90" stroke="#595959" stroke-width="1.0"/>
<text x="594.80" y="294.00" font-size="10" text-anchor="middle">ATP</text>
<text x="647.20" y="294.00" font-size="10" text-anchor="middle">ADP</text>
<text x="594.80" y="238.00" font-size="10" text-anchor="middle">ns</text>
<line x1="585.30" y1="244.50" x2="606.00" y2="244.50" stroke="#707070" stroke-width="1.3"/>
<text x="646.50" y="199.20" font-size="10" text-anchor="middle">ns</text>
<line x1="636.90" y1="206.30" x2="656.80" y2="206.30" stroke="#707070" stroke-width="1.3"/>
<circle cx="577.40" cy="193.90" r="2.45" fill="#EE8F24"/>
<text x="583.30" y="196.90" font-size="10.7" font-style="italic">Syne</text>
<rect x="575.10" y="203.90" width="4.70" height="4.70" fill="#5CB0F8"/>
<text x="583.30" y="209.50" font-size="10.7"><tspan>CDs-</tspan><tspan font-style="italic">Syne</tspan></text>
<rect x="566.80" y="182.00" width="108.80" height="99.90" fill="none" stroke="#595959" stroke-width="1.1"/>
<rect x="348.80" y="335.10" width="65.20" height="97.20" fill="none" stroke="#595959" stroke-width="1.1"/>
<line x1="345.80" y1="432.30" x2="348.80" y2="432.30" stroke="#595959" stroke-width="1.0"/>
<text x="344.30" y="435.80" font-size="10" text-anchor="end">0.0</text>
<line x1="345.80" y1="383.70" x2="348.80" y2="383.70" stroke="#595959" stroke-width="1.0"/>
<text x="344.30" y="387.20" font-size="10" text-anchor="end">0.1</text>
<line x1="345.80" y1="335.10" x2="348.80" y2="335.10" stroke="#595959" stroke-width="1.0"/>
<text x="344.30" y="338.60" font-size="10" text-anchor="end">0.2</text>
<text x="322.70" y="380.00" font-size="10" text-anchor="middle" transform="rotate(-90 322.70 380.00)"><tspan>Rubisco flux (mmol s</tspan><tspan dy="-3.60" font-size="6.00">-1</tspan><tspan dy="3.60">)</tspan></text>
<rect x="362.30" y="407.70" width="12.60" height="24.60" fill="white" stroke="#EDB25E" stroke-width="1.2"/>
<line x1="363.30" y1="407.70" x2="373.90" y2="407.70" stroke="#EF9C3A" stroke-width="1.3"/>
<circle cx="364.50" cy="408.50" r="2.15" fill="#EF9C3A"/>
<circle cx="368.60" cy="407.00" r="2.15" fill="#EF9C3A"/>
<circle cx="372.70" cy="407.50" r="2.15" fill="#EF9C3A"/>
<rect x="388.00" y="371.90" width="12.90" height="60.40" fill="white" stroke="#8CCBF5" stroke-width="1.2"/>
<line x1="389.00" y1="371.90" x2="399.90" y2="371.90" stroke="#5CB2FA" stroke-width="1.3"/>
<line x1="394.45" y1="371.00" x2="394.45" y2="378.50" stroke="#5CB2FA" stroke-width="0.9"/>
<line x1="391.95" y1="371.00" x2="396.95" y2="371.00" stroke="#5CB2FA" stroke-width="0.9"/>
<line x1="391.95" y1="378.50" x2="396.95" y2="378.50" stroke="#5CB2FA" stroke-width="0.9"/>
<rect x="388.15" y="369.85" width="4.30" height="4.30" fill="#5CB2FA"/>
<rect x="392.35" y="372.35" width="4.30" height="4.30" fill="#5CB2FA"/>
<rect x="396.45" y="369.85" width="4.30" height="4.30" fill="#5CB2FA"/>
<rect x="392.35" y="375.35" width="4.30" height="4.30" fill="#5CB2FA"/>
<line x1="368.50" y1="432.30" x2="368.50" y2="435.30" stroke="#595959" stroke-width="1.0"/>
<line x1="394.50" y1="432.30" x2="394.50" y2="435.30" stroke="#595959" stroke-width="1.0"/>
<text x="363.40" y="448.50" font-size="10.4" text-anchor="middle" font-style="italic">Syne</text>
<text x="403.20" y="448.50" font-size="10.4" text-anchor="middle"><tspan>CDs-</tspan><tspan font-style="italic">Syne</tspan></text>
<text x="357.30" y="353.50" font-size="10">P &lt; 0.0001</text>
<line x1="368.00" y1="361.30" x2="395.00" y2="361.30" stroke="#707070" stroke-width="1.3"/>
<rect x="348.80" y="335.10" width="65.20" height="97.20" fill="none" stroke="#595959" stroke-width="1.1"/>
<rect x="501.30" y="335.40" width="141.90" height="99.80" fill="none" stroke="#595959" stroke-width="1.1"/>
<line x1="498.30" y1="435.20" x2="501.30" y2="435.20" stroke="#595959" stroke-width="1.0"/>
<text x="496.80" y="438.70" font-size="10" text-anchor="end">0</text>
<line x1="498.30" y1="410.25" x2="501.30" y2="410.25" stroke="#595959" stroke-width="1.0"/>
<text x="496.80" y="413.75" font-size="10" text-anchor="end">1</text>
<line x1="498.30" y1="385.30" x2="501.30" y2="385.30" stroke="#595959" stroke-width="1.0"/>
<text x="496.80" y="388.80" font-size="10" text-anchor="end">2</text>
<line x1="498.30" y1="360.35" x2="501.30" y2="360.35" stroke="#595959" stroke-width="1.0"/>
<text x="496.80" y="363.85" font-size="10" text-anchor="end">3</text>
<line x1="498.30" y1="335.40" x2="501.30" y2="335.40" stroke="#595959" stroke-width="1.0"/>
<text x="496.80" y="338.90" font-size="10" text-anchor="end">4</text>
<text x="483.40" y="386.00" font-size="10.9" text-anchor="middle" transform="rotate(-90 483.40 386.00)"><tspan>Glycerol (mg L</tspan><tspan dy="-3.92" font-size="6.54">-1</tspan><tspan dy="3.92">)</tspan></text>
<rect x="516.80" y="402.50" width="13.70" height="32.70" fill="white" stroke="#EFAE58" stroke-width="1.2"/>
<line x1="517.80" y1="402.50" x2="529.50" y2="402.50" stroke="#EF9C3A" stroke-width="1.3"/>
<circle cx="518.40" cy="398.80" r="2.15" fill="#EF9C3A"/>
<circle cx="518.40" cy="403.90" r="2.15" fill="#EF9C3A"/>
<circle cx="523.30" cy="401.50" r="2.15" fill="#EF9C3A"/>
<circle cx="528.40" cy="402.80" r="2.15" fill="#EF9C3A"/>
<rect x="545.20" y="360.60" width="13.60" height="74.60" fill="white" stroke="#62B2F4" stroke-width="1.2"/>
<line x1="546.20" y1="360.60" x2="557.80" y2="360.60" stroke="#5CB2FA" stroke-width="1.3"/>
<rect x="544.45" y="361.45" width="4.30" height="4.30" fill="#5CB2FA"/>
<rect x="547.85" y="358.35" width="4.30" height="4.30" fill="#5CB2FA"/>
<rect x="551.45" y="360.35" width="4.30" height="4.30" fill="#5CB2FA"/>
<rect x="554.45" y="358.65" width="4.30" height="4.30" fill="#5CB2FA"/>
<line x1="537.40" y1="435.20" x2="537.40" y2="438.20" stroke="#595959" stroke-width="1.0"/>
<line x1="608.40" y1="435.20" x2="608.40" y2="438.20" stroke="#595959" stroke-width="1.0"/>
<text x="537.40" y="448.00" font-size="10.6" text-anchor="middle">light</text>
<text x="608.40" y="448.00" font-size="10.6" text-anchor="middle">dark</text>
<text x="512.60" y="350.00" font-size="10.5">P=0.0016</text>
<line x1="523.20" y1="352.90" x2="551.70" y2="352.90" stroke="#707070" stroke-width="1.3"/>
<circle cx="574.80" cy="348.30" r="2.45" fill="#EF9C3A"/>
<text x="588.60" y="352.80" font-size="10.7" font-style="italic">Syne</text>
<rect x="572.45" y="362.15" width="4.70" height="4.70" fill="#5CB2FA"/>
<text x="588.60" y="369.00" font-size="10.7"><tspan>CDs-</tspan><tspan font-style="italic">Syne</tspan></text>
<rect x="501.30" y="335.40" width="141.90" height="99.80" fill="none" stroke="#595959" stroke-width="1.1"/>
<circle cx="589.30" cy="435.20" r="2.20" fill="#EF9C3A"/>
<circle cx="592.80" cy="435.20" r="2.20" fill="#EF9C3A"/>
<circle cx="596.30" cy="435.20" r="2.20" fill="#EF9C3A"/>
<circle cx="599.80" cy="435.20" r="2.20" fill="#EF9C3A"/>
<rect x="616.00" y="433.00" width="13.00" height="4.40" fill="#5CB2FA"/>
<defs>
<radialGradient id="cellg" cx="0.5" cy="0.5" r="0.62">
  <stop offset="0" stop-color="#E8F8C4"/>
  <stop offset="0.5" stop-color="#D9F3C4"/>
  <stop offset="1" stop-color="#C0E9BE"/>
</radialGradient>
<radialGradient id="psg" cx="0.52" cy="0.55" r="0.55">
  <stop offset="0" stop-color="#F4F4D8"/>
  <stop offset="0.45" stop-color="#F0EAC2"/>
  <stop offset="1" stop-color="#E6D79E"/>
</radialGradient>
<radialGradient id="cfg" cx="0.45" cy="0.45" r="0.6">
  <stop offset="0" stop-color="#AEE6CF"/>
  <stop offset="0.7" stop-color="#90DCC2"/>
  <stop offset="1" stop-color="#72D2B6"/>
</radialGradient>
<radialGradient id="glow" cx="0.5" cy="0.5" r="0.5">
  <stop offset="0" stop-color="#FCF4D6" stop-opacity="1"/>
  <stop offset="0.55" stop-color="#FDF7E2" stop-opacity="0.8"/>
  <stop offset="1" stop-color="#FFFFFF" stop-opacity="0"/>
</radialGradient>
<linearGradient id="bfun1" gradientUnits="userSpaceOnUse" x1="0" y1="335" x2="0" y2="368">
  <stop offset="0" stop-color="#E2E4F6" stop-opacity="0.9"/>
  <stop offset="0.35" stop-color="#A4C2E6" stop-opacity="0.7"/>
  <stop offset="0.75" stop-color="#6F9CE0"/>
  <stop offset="1" stop-color="#5A88E0"/>
</linearGradient>
<linearGradient id="rfun" x1="0" y1="0" x2="1" y2="0">
  <stop offset="0" stop-color="#F4B8C0" stop-opacity="0.05"/>
  <stop offset="0.6" stop-color="#EE8A9A" stop-opacity="0.7"/>
  <stop offset="1" stop-color="#EA5470"/>
</linearGradient>
<radialGradient id="red" cx="0.4" cy="0.38" r="0.65">
  <stop offset="0" stop-color="#FDE6E4"/>
  <stop offset="0.4" stop-color="#F4ACA8"/>
  <stop offset="1" stop-color="#E88080"/>
</radialGradient>
<radialGradient id="teal" cx="0.4" cy="0.38" r="0.65">
  <stop offset="0" stop-color="#F0FCF9"/>
  <stop offset="0.45" stop-color="#C0ECE4"/>
  <stop offset="1" stop-color="#96D8CF"/>
</radialGradient>
<radialGradient id="white" cx="0.4" cy="0.38" r="0.65">
  <stop offset="0" stop-color="#FFFFFF"/>
  <stop offset="1" stop-color="#D6D6D6"/>
</radialGradient>
<marker id="tealhead" viewBox="0 0 10 10" refX="4" refY="5" markerWidth="3.0" markerHeight="3.0" orient="auto">
  <path d="M0,0 L10,5 L0,10 z" fill="#48A6B8"/>
</marker>
</defs>
<ellipse cx="47" cy="350" rx="24" ry="16" transform="rotate(35 47 350)" fill="url(#glow)"/>
<rect x="47.6" y="343.5" width="202.8" height="95.9" rx="42" ry="42" fill="url(#cellg)" stroke="#86A05D" stroke-width="2.3"/>
<circle cx="95.2" cy="388" r="30.6" fill="url(#psg)" stroke="#F2F2EE" stroke-width="2.4"/>
<circle cx="202.2" cy="388" r="30.4" fill="url(#cfg)" stroke="#E7E8EA" stroke-width="2.4"/>
<circle cx="202.2" cy="388" r="28.3" fill="none" stroke="#6ED1B5" stroke-width="2.2"/>
<path d="M214.41,365.04 A26.0,26.0 0 0 0 188.42,365.95" fill="none" stroke="#FFFFFF" stroke-width="1.6"/>
<polygon points="184.01,368.91 187.72,363.15 190.74,367.63" fill="#FFFFFF"/>
<path d="M180.15,374.22 A26.0,26.0 0 0 0 215.20,410.52" fill="none" stroke="#FFFFFF" stroke-width="1.6"/>
<polygon points="219.71,407.72 215.81,413.34 212.94,408.76" fill="#FFFFFF"/>
<path d="M224.25,401.78 A26.0,26.0 0 0 0 222.69,371.99" fill="none" stroke="#FFFFFF" stroke-width="1.6"/>
<path d="M85.40,335.20 Q91.60,344.20 92.10,356.30 L92.10,362.80 L90.10,362.80 L94.60,367.80 L99.10,362.80 L97.10,362.80 L97.10,356.30 Q98.60,342.20 107.90,335.20 Z" fill="url(#bfun1)"/>
<path d="M190.00,335.00 Q197.70,344.00 198.20,355.90 L198.20,362.40 L196.60,362.40 L201.60,367.40 L206.60,362.40 L205.00,362.40 L205.00,355.90 Q206.50,342.00 215.00,335.00 Z" fill="url(#bfun1)"/>
<linearGradient id="rf13" gradientUnits="userSpaceOnUse" x1="74.00" y1="412.00" x2="54.59" y2="433.86"><stop offset="0" stop-color="#F2B8C0" stop-opacity="0.1"/><stop offset="0.5" stop-color="#EE96A4" stop-opacity="0.75"/><stop offset="1" stop-color="#EC6A80"/></linearGradient>
<polygon points="68.92,407.48 53.69,433.06 55.49,434.66 79.08,416.52" fill="url(#rf13)"/>
<polygon points="51.80,437.00 52.05,431.60 57.13,436.12" fill="#EC6A80"/>
<linearGradient id="rf16" gradientUnits="userSpaceOnUse" x1="216.50" y1="400.00" x2="226.12" y2="408.94"><stop offset="0" stop-color="#F2B8C0" stop-opacity="0.1"/><stop offset="0.5" stop-color="#EE96A4" stop-opacity="0.75"/><stop offset="1" stop-color="#EA5470"/></linearGradient>
<polygon points="213.37,403.37 225.31,409.82 226.94,408.06 219.63,396.63" fill="url(#rf16)"/>
<polygon points="229.20,411.80 223.94,411.29 228.30,406.60" fill="#EA5470"/>
<linearGradient id="rf19" gradientUnits="userSpaceOnUse" x1="235.00" y1="420.50" x2="247.14" y2="428.82"><stop offset="0" stop-color="#F2B8C0" stop-opacity="0.1"/><stop offset="0.5" stop-color="#EE96A4" stop-opacity="0.75"/><stop offset="1" stop-color="#EA5470"/></linearGradient>
<polygon points="232.40,424.29 246.46,429.81 247.82,427.83 237.60,416.71" fill="url(#rf19)"/>
<polygon points="250.60,431.20 245.33,431.46 248.95,426.19" fill="#EA5470"/>
<polyline points="44.20,338.90 44.31,339.33 44.42,339.74 44.56,340.12 44.72,340.47 44.92,340.76 45.16,341.00 45.44,341.19 45.77,341.31 46.13,341.38 46.52,341.41 46.94,341.40 47.37,341.37 47.81,341.33 48.25,341.30 48.67,341.29 49.06,341.31 49.43,341.38 49.75,341.50 50.04,341.68 50.28,341.91 50.48,342.20 50.65,342.55 50.79,342.93 50.91,343.34 51.01,343.76 51.12,344.19 51.23,344.61 51.37,344.99 51.53,345.34 51.73,345.64 51.96,345.89 52.24,346.07 52.56,346.20 52.92,346.28 53.31,346.31 53.73,346.30 54.16,346.27 54.60,346.24 55.03,346.20 55.46,346.19 55.85,346.21 56.22,346.27 56.55,346.39 56.84,346.56 57.09,346.79 57.29,347.08 57.46,347.41 57.60,347.79 57.72,348.20 57.83,348.63 57.93,349.06 58.05,349.47 58.18,349.86 58.34,350.21 58.53,350.52 58.77,350.77 59.04,350.96 59.36,351.09 59.71,351.17 60.10,351.21 60.51,351.20 60.95,351.18 61.38,351.14 61.82,351.10 62.24,351.09 62.64,351.11 63.01,351.17 63.35,351.28 63.64,351.44 63.89,351.67 64.10,351.95 64.27,352.28 64.41,352.66 64.54,353.07 64.64,353.49 64.75,353.92 64.86,354.34 64.99,354.73 65.15,355.08 65.34,355.39 65.57,355.65 65.84,355.84 66.15,355.98 66.50,356.07 66.89,356.11 67.30,356.10 67.73,356.08 68.17,356.04 68.61,356.01 69.03,355.99 69.43,356.00 69.81,356.06 70.14,356.17 70.44,356.33 70.69,356.55 70.91,356.83 71.08,357.15 71.23,357.53 71.35,357.93 71.46,358.35 71.56,358.78 71.67,359.20 71.80,359.60 71.96,359.96 72.14,360.27 72.37,360.53 72.64,360.73 72.95,360.87 73.29,360.96 73.68,361.00 74.09,361.01 74.52,360.98 74.96,360.94 75.39,360.91 75.82,360.89 76.22,360.90 76.60,360.95 76.94,361.05 77.24,361.21 77.50,361.43 77.71,361.70 77.89,362.02 78.04,362.39 78.16,362.80 78.27,363.22 78.38,363.65 78.49,364.07 78.61,364.46 78.76,364.83 78.95,365.14 79.17,365.41 79.44,365.62 79.74,365.76 80.09,365.86 80.47,365.90 80.88,365.91 81.30,365.88 81.74,365.85 82.18,365.81 82.61,365.79 83.01,365.80 83.39,365.85 83.73,365.94 84.04,366.10 84.30,366.31 84.52,366.57 84.70,366.90 84.85,367.26 84.97,367.66 85.08,368.08" fill="none" stroke="#EF8ADC" stroke-width="0.75"/>
<polygon points="87.27,369.83 84.13,369.42 85.87,366.98" fill="#EC78D2"/>
<polyline points="42.43,341.13 42.53,341.56 42.64,341.97 42.78,342.36 42.94,342.70 43.13,343.00 43.37,343.24 43.65,343.43 43.97,343.56 44.33,343.63 44.72,343.66 45.14,343.66 45.57,343.63 46.01,343.60 46.45,343.57 46.87,343.56 47.26,343.59 47.63,343.66 47.95,343.78 48.24,343.96 48.48,344.20 48.68,344.49 48.84,344.83 48.98,345.21 49.09,345.62 49.19,346.05 49.29,346.48 49.40,346.89 49.53,347.28 49.69,347.63 49.88,347.94 50.12,348.18 50.39,348.38 50.71,348.51 51.06,348.59 51.45,348.63 51.87,348.63 52.30,348.60 52.74,348.57 53.18,348.54 53.60,348.53 54.00,348.55 54.36,348.62 54.69,348.73 54.98,348.91 55.23,349.14 55.43,349.42 55.60,349.76 55.74,350.14 55.85,350.54 55.96,350.97 56.06,351.40 56.17,351.82 56.29,352.21 56.45,352.56 56.64,352.87 56.86,353.13 57.13,353.32 57.45,353.46 57.80,353.55 58.18,353.59 58.60,353.59 59.03,353.57 59.47,353.54 59.90,353.51 60.33,353.50 60.73,353.51 61.10,353.57 61.43,353.68 61.73,353.85 61.98,354.07 62.19,354.35 62.36,354.69 62.50,355.06 62.62,355.46 62.72,355.89 62.82,356.32 62.93,356.74 63.05,357.13 63.20,357.49 63.39,357.81 63.61,358.07 63.88,358.27 64.18,358.42 64.53,358.51 64.91,358.56 65.32,358.56 65.75,358.54 66.19,358.51 66.63,358.48 67.06,358.46 67.46,358.48 67.83,358.53 68.17,358.64 68.47,358.80 68.73,359.01 68.94,359.29 69.12,359.61 69.26,359.98 69.38,360.39 69.48,360.81 69.58,361.24 69.69,361.66 69.81,362.06 69.96,362.42 70.14,362.74 70.36,363.01 70.62,363.22 70.92,363.37 71.27,363.47 71.65,363.52 72.05,363.53 72.48,363.51 72.92,363.48 73.36,363.45 73.78,363.43 74.19,363.44 74.57,363.49 74.91,363.59 75.21,363.74 75.47,363.95 75.69,364.22 75.87,364.54 76.02,364.91 76.14,365.31 76.25,365.73 76.35,366.16 76.45,366.58 76.57,366.98 76.72,367.35 76.89,367.68 77.11,367.95 77.36,368.17 77.66,368.32 78.00,368.43 78.38,368.48 78.78,368.50 79.21,368.48 79.65,368.45 80.08,368.42 80.51,368.40 80.92,368.40 81.30,368.45 81.65,368.54 81.96,368.69 82.22,368.89 82.45,369.16 82.63,369.47 82.78,369.83 82.90,370.23 83.01,370.65" fill="none" stroke="#EF8ADC" stroke-width="0.75"/>
<polygon points="85.16,372.46 82.01,372.01 83.79,369.59" fill="#EC78D2"/>
<polyline points="40.66,343.36 40.76,343.79 40.86,344.20 40.99,344.59 41.15,344.94 41.34,345.24 41.58,345.48 41.86,345.67 42.17,345.80 42.53,345.88 42.92,345.91 43.34,345.91 43.77,345.89 44.21,345.86 44.65,345.84 45.07,345.84 45.46,345.87 45.83,345.94 46.15,346.06 46.43,346.25 46.67,346.48 46.87,346.77 47.03,347.12 47.16,347.50 47.27,347.91 47.37,348.34 47.47,348.77 47.57,349.18 47.70,349.57 47.85,349.93 48.04,350.23 48.27,350.48 48.54,350.68 48.86,350.82 49.21,350.90 49.60,350.94 50.01,350.95 50.44,350.93 50.88,350.90 51.32,350.88 51.74,350.87 52.14,350.89 52.51,350.96 52.84,351.08 53.12,351.25 53.37,351.48 53.57,351.77 53.74,352.10 53.87,352.48 53.99,352.89 54.09,353.31 54.18,353.74 54.29,354.16 54.41,354.56 54.56,354.91 54.74,355.23 54.96,355.49 55.23,355.69 55.54,355.84 55.89,355.93 56.27,355.97 56.68,355.98 57.11,355.97 57.55,355.94 57.99,355.91 58.41,355.90 58.81,355.92 59.18,355.98 59.52,356.09 59.81,356.26 60.06,356.48 60.27,356.76 60.44,357.09 60.58,357.46 60.70,357.87 60.80,358.29 60.89,358.72 61.00,359.14 61.12,359.54 61.26,359.90 61.44,360.22 61.66,360.49 61.92,360.70 62.22,360.85 62.56,360.95 62.94,361.00 63.35,361.02 63.78,361.00 64.22,360.97 64.65,360.95 65.08,360.93 65.49,360.95 65.86,361.00 66.20,361.11 66.50,361.27 66.76,361.48 66.97,361.75 67.15,362.08 67.29,362.44 67.41,362.84 67.51,363.27 67.61,363.70 67.71,364.12 67.82,364.52 67.96,364.89 68.14,365.22 68.35,365.49 68.60,365.71 68.90,365.87 69.24,365.98 69.61,366.03 70.02,366.05 70.45,366.04 70.88,366.01 71.32,365.98 71.75,365.97 72.16,365.98 72.54,366.03 72.89,366.12 73.19,366.28 73.45,366.48 73.67,366.75 73.85,367.06 74.00,367.42 74.12,367.82 74.22,368.24 74.32,368.67 74.42,369.10 74.53,369.50 74.67,369.88 74.84,370.21 75.05,370.49 75.29,370.72 75.59,370.88 75.92,371.00 76.29,371.06 76.69,371.08 77.11,371.07 77.55,371.05 77.99,371.02 78.42,371.00 78.83,371.01 79.22,371.05 79.57,371.14 79.88,371.29 80.15,371.48 80.37,371.74 80.56,372.05 80.71,372.41 80.83,372.80 80.94,373.22" fill="none" stroke="#EF8ADC" stroke-width="0.75"/>
<polygon points="83.04,375.08 79.90,374.60 81.70,372.20" fill="#EC78D2"/>
<polyline points="38.89,345.59 38.98,346.02 39.09,346.43 39.21,346.82 39.36,347.17 39.55,347.47 39.79,347.72 40.06,347.91 40.38,348.04 40.73,348.13 41.13,348.17 41.54,348.17 41.97,348.15 42.41,348.13 42.85,348.11 43.27,348.11 43.66,348.14 44.03,348.22 44.35,348.35 44.63,348.53 44.87,348.77 45.06,349.06 45.22,349.40 45.35,349.78 45.46,350.20 45.55,350.62 45.64,351.05 45.74,351.47 45.87,351.86 46.01,352.22 46.20,352.53 46.42,352.78 46.69,352.98 47.00,353.13 47.35,353.22 47.74,353.26 48.15,353.27 48.58,353.26 49.02,353.23 49.46,353.21 49.88,353.21 50.28,353.24 50.65,353.30 50.98,353.42 51.27,353.60 51.51,353.83 51.71,354.11 51.88,354.45 52.01,354.82 52.12,355.23 52.21,355.66 52.30,356.09 52.40,356.51 52.52,356.90 52.66,357.27 52.84,357.58 53.06,357.85 53.32,358.05 53.63,358.21 53.97,358.30 54.35,358.36 54.76,358.37 55.19,358.36 55.63,358.33 56.07,358.31 56.49,358.31 56.90,358.33 57.27,358.39 57.61,358.50 57.90,358.67 58.15,358.89 58.36,359.16 58.53,359.49 58.67,359.86 58.78,360.27 58.87,360.69 58.97,361.12 59.06,361.54 59.18,361.95 59.32,362.31 59.49,362.64 59.70,362.91 59.96,363.13 60.25,363.29 60.59,363.39 60.97,363.45 61.38,363.47 61.80,363.46 62.24,363.44 62.68,363.41 63.11,363.40 63.51,363.42 63.89,363.48 64.23,363.58 64.53,363.74 64.79,363.95 65.01,364.22 65.18,364.54 65.32,364.90 65.44,365.30 65.54,365.73 65.63,366.16 65.72,366.58 65.83,366.99 65.97,367.36 66.14,367.69 66.34,367.97 66.59,368.20 66.88,368.36 67.21,368.48 67.59,368.54 67.99,368.57 68.41,368.56 68.85,368.54 69.29,368.52 69.72,368.50 70.13,368.52 70.51,368.56 70.86,368.66 71.17,368.81 71.43,369.01 71.65,369.27 71.83,369.59 71.98,369.95 72.10,370.34 72.20,370.76 72.29,371.19 72.38,371.62 72.49,372.03 72.62,372.40 72.78,372.74 72.98,373.03 73.22,373.26 73.51,373.44 73.84,373.56 74.20,373.64 74.60,373.66 75.02,373.66 75.46,373.64 75.90,373.62 76.33,373.60 76.74,373.61 77.13,373.65 77.48,373.74 77.80,373.88 78.07,374.08 78.30,374.33 78.48,374.63 78.63,374.99 78.76,375.38 78.86,375.79" fill="none" stroke="#EF8ADC" stroke-width="0.75"/>
<polygon points="80.93,377.70 77.79,377.19 79.61,374.81" fill="#EC78D2"/>
<path d="M135.2,362.2 Q121,366.5 118.8,380.6" fill="none" stroke="#48A6B8" stroke-width="1.9" marker-end="url(#tealhead)"/>
<path d="M118.6,396 Q121.5,407.5 131.8,412.3" fill="none" stroke="#48A6B8" stroke-width="1.9" marker-end="url(#tealhead)"/>
<path d="M163.5,413 Q175.5,408 178.9,394.0" fill="none" stroke="#48A6B8" stroke-width="1.9" marker-end="url(#tealhead)"/>
<path d="M178,377.5 Q174,366 165.8,363.2" fill="none" stroke="#48A6B8" stroke-width="1.9" marker-end="url(#tealhead)"/>
<circle cx="89.60" cy="326.30" r="3.45" fill="#6A6A6A"/>
<circle cx="88.40" cy="332.40" r="6.35" fill="#6A6A6A"/>
<circle cx="82.40" cy="332.40" r="3.55" fill="#6A6A6A"/>
<circle cx="89.60" cy="326.30" r="2.70" fill="url(#white)"/>
<circle cx="88.40" cy="332.40" r="5.60" fill="url(#red)"/>
<circle cx="82.40" cy="332.40" r="2.80" fill="url(#white)"/>
<circle cx="108.20" cy="326.90" r="2.95" fill="#6A6A6A"/>
<circle cx="103.20" cy="327.30" r="5.25" fill="#6A6A6A"/>
<circle cx="101.90" cy="322.70" r="3.25" fill="#6A6A6A"/>
<circle cx="108.20" cy="326.90" r="2.20" fill="url(#white)"/>
<circle cx="103.20" cy="327.30" r="4.50" fill="url(#red)"/>
<circle cx="101.90" cy="322.70" r="2.50" fill="url(#white)"/>
<circle cx="185.40" cy="327.40" r="6.05" fill="#6A6A6A"/>
<circle cx="190.90" cy="329.30" r="5.65" fill="#6A6A6A"/>
<circle cx="196.60" cy="331.90" r="6.25" fill="#6A6A6A"/>
<circle cx="185.40" cy="327.40" r="5.30" fill="url(#red)"/>
<circle cx="190.90" cy="329.30" r="4.90" fill="url(#teal)"/>
<circle cx="196.60" cy="331.90" r="5.50" fill="url(#red)"/>
<circle cx="208.60" cy="330.20" r="4.95" fill="#6A6A6A"/>
<circle cx="210.40" cy="328.10" r="4.45" fill="#6A6A6A"/>
<circle cx="213.20" cy="325.20" r="5.25" fill="#6A6A6A"/>
<circle cx="208.60" cy="330.20" r="4.20" fill="url(#red)"/>
<circle cx="210.40" cy="328.10" r="3.70" fill="url(#teal)"/>
<circle cx="213.20" cy="325.20" r="4.50" fill="url(#red)"/>
<circle cx="44.50" cy="439.00" r="6.45" fill="#6A6A6A"/>
<circle cx="51.30" cy="439.20" r="6.35" fill="#6A6A6A"/>
<circle cx="44.50" cy="439.00" r="5.70" fill="url(#red)"/>
<circle cx="51.30" cy="439.20" r="5.60" fill="url(#red)"/>
<circle cx="257.00" cy="423.90" r="3.05" fill="#6A6A6A"/>
<circle cx="257.00" cy="429.00" r="5.95" fill="#6A6A6A"/>
<circle cx="242.60" cy="435.20" r="3.05" fill="#6A6A6A"/>
<circle cx="245.40" cy="438.00" r="5.75" fill="#6A6A6A"/>
<circle cx="262.50" cy="439.30" r="5.75" fill="#6A6A6A"/>
<circle cx="268.90" cy="437.40" r="5.95" fill="#6A6A6A"/>
<circle cx="271.80" cy="434.80" r="3.05" fill="#6A6A6A"/>
<circle cx="250.50" cy="440.00" r="5.75" fill="#6A6A6A"/>
<circle cx="256.60" cy="436.00" r="5.75" fill="#6A6A6A"/>
<circle cx="257.00" cy="423.90" r="2.30" fill="url(#white)"/>
<circle cx="257.00" cy="429.00" r="5.20" fill="url(#red)"/>
<circle cx="242.60" cy="435.20" r="2.30" fill="url(#white)"/>
<circle cx="245.40" cy="438.00" r="5.00" fill="url(#red)"/>
<circle cx="262.50" cy="439.30" r="5.00" fill="url(#teal)"/>
<circle cx="268.90" cy="437.40" r="5.20" fill="url(#red)"/>
<circle cx="271.80" cy="434.80" r="2.30" fill="url(#white)"/>
<circle cx="250.50" cy="440.00" r="5.00" fill="url(#teal)"/>
<circle cx="256.60" cy="436.00" r="5.00" fill="url(#teal)"/>
<text x="61.00" y="336.80" font-size="10.3">H<tspan dy="2.8" font-size="7">2</tspan><tspan dy="-2.8">O</tspan></text>
<text x="214.00" y="334.60" font-size="10.3">CO<tspan dy="2.8" font-size="7">2</tspan></text>
<text x="38.20" y="365.60" font-size="10.3">hv</text>
<text x="94.90" y="391.80" font-size="10.5" text-anchor="middle">Photosystems</text>
<text x="150.00" y="361.00" font-size="10.6" text-anchor="middle">ADP</text>
<text x="133.60" y="377.20" font-size="10.6">NADP<tspan dy="-4" font-size="6.5">+</tspan></text>
<text x="150.90" y="411.80" font-size="10.6" text-anchor="middle">ATP</text>
<text x="148.80" y="422.20" font-size="10.6" text-anchor="middle">NADPH</text>
<text x="172.70" y="391.30" font-size="10.8">CO<tspan dy="2.9" font-size="7.3">2</tspan><tspan dy="-2.9">-fixation</tspan></text>
<text x="222.50" y="420.20" font-size="10.6">G3P</text>
<text x="42.20" y="429.80" font-size="10.3">O<tspan dy="2.8" font-size="7">2</tspan></text>
<text x="93.60" y="454.30" font-size="10.8">CDs stimulated reaction</text>
<text x="237.60" y="453.40" font-size="10.3">Glycerol</text>
</svg>
</div>
</body></html>
